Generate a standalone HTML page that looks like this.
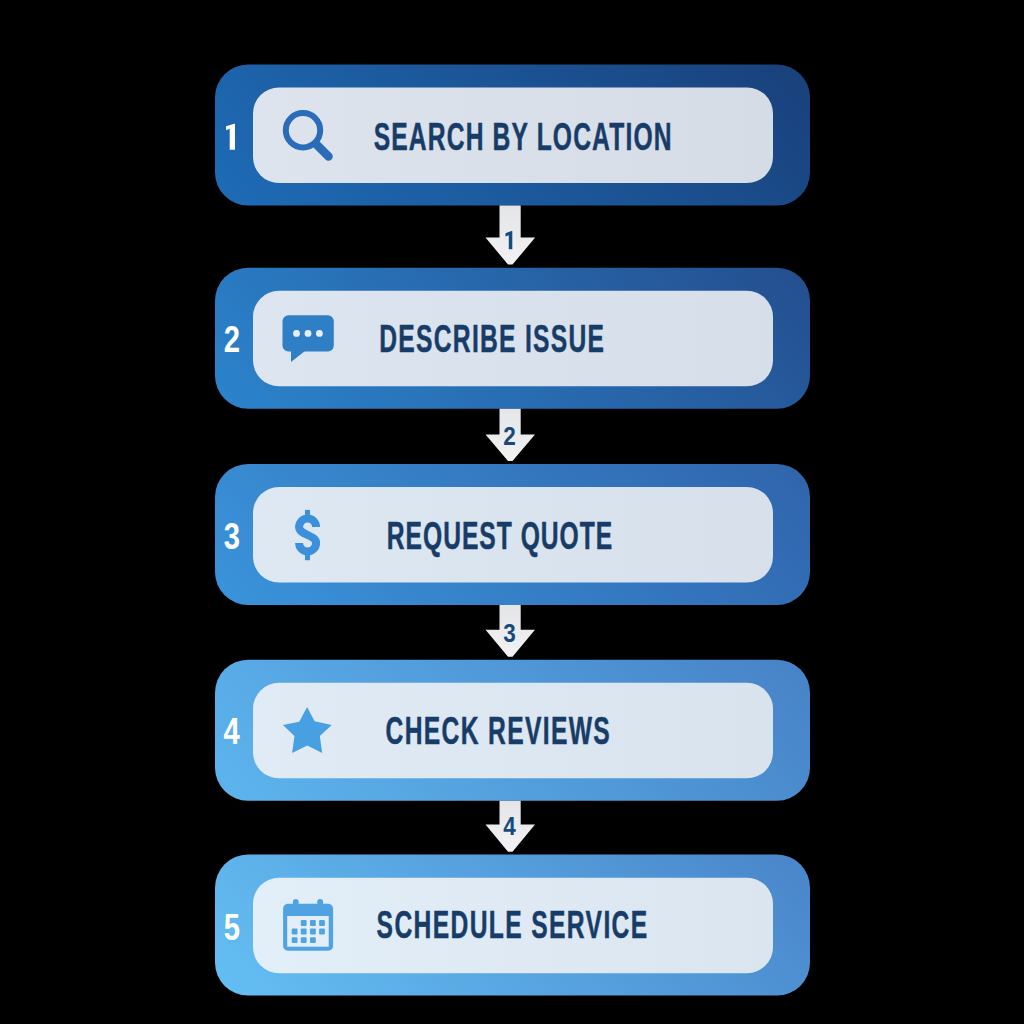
<!DOCTYPE html>
<html><head><meta charset="utf-8">
<style>
html,body{margin:0;padding:0;background:#000;width:1024px;height:1024px;overflow:hidden;}
svg{display:block;}
.t{font-family:"Liberation Sans",sans-serif;font-weight:bold;}
</style></head>
<body>
<svg width="1024" height="1024" viewBox="0 0 1024 1024">
<defs>
<linearGradient id="g1" gradientUnits="userSpaceOnUse" x1="215" y1="205.5" x2="583.0" y2="-162.5"><stop offset="0" stop-color="#1e6cb7"/><stop offset="1" stop-color="#19407a"/></linearGradient>
<linearGradient id="g2" gradientUnits="userSpaceOnUse" x1="215" y1="408.7" x2="583.0" y2="40.7"><stop offset="0" stop-color="#2b84cd"/><stop offset="1" stop-color="#244e8e"/></linearGradient>
<linearGradient id="g3" gradientUnits="userSpaceOnUse" x1="215" y1="605.0" x2="583.0" y2="237.0"><stop offset="0" stop-color="#3a94db"/><stop offset="1" stop-color="#3064ac"/></linearGradient>
<linearGradient id="g4" gradientUnits="userSpaceOnUse" x1="215" y1="800.7" x2="583.0" y2="432.7"><stop offset="0" stop-color="#5db5ee"/><stop offset="1" stop-color="#4682c6"/></linearGradient>
<linearGradient id="g5" gradientUnits="userSpaceOnUse" x1="215" y1="995.6" x2="583.0" y2="627.6"><stop offset="0" stop-color="#64bff4"/><stop offset="1" stop-color="#4985c9"/></linearGradient>
<linearGradient id="ga" x1="0" y1="0" x2="0" y2="1">
<stop offset="0" stop-color="#e4e5e8"/><stop offset="1" stop-color="#f2f2f4"/></linearGradient>
<linearGradient id="i1" x1="0" y1="0" x2="1" y2="0"><stop offset="0" stop-color="#dde4ed"/><stop offset="1" stop-color="#d5dce6"/></linearGradient>
<linearGradient id="i2" x1="0" y1="0" x2="1" y2="0"><stop offset="0" stop-color="#dde6f0"/><stop offset="1" stop-color="#d6dee9"/></linearGradient>
<linearGradient id="i3" x1="0" y1="0" x2="1" y2="0"><stop offset="0" stop-color="#dde8f3"/><stop offset="1" stop-color="#d7e0eb"/></linearGradient>
<linearGradient id="i4" x1="0" y1="0" x2="1" y2="0"><stop offset="0" stop-color="#e0ebf6"/><stop offset="1" stop-color="#d9e3ee"/></linearGradient>
<linearGradient id="i5" x1="0" y1="0" x2="1" y2="0"><stop offset="0" stop-color="#e2eef8"/><stop offset="1" stop-color="#dbe5f0"/></linearGradient>
</defs>

<!-- outer boxes -->
<rect x="215" y="64.5" width="595" height="141" rx="33" fill="url(#g1)"/>
<rect x="215" y="267.7" width="595" height="141" rx="33" fill="url(#g2)"/>
<rect x="215" y="464" width="595" height="141" rx="33" fill="url(#g3)"/>
<rect x="215" y="659.7" width="595" height="141" rx="33" fill="url(#g4)"/>
<rect x="215" y="854.6" width="595" height="141" rx="33" fill="url(#g5)"/>

<!-- inner boxes -->
<rect x="253" y="87.5" width="520" height="95.5" rx="26" fill="url(#i1)"/>
<rect x="253" y="290.8" width="520" height="95.5" rx="26" fill="url(#i2)"/>
<rect x="253" y="487" width="520" height="95.5" rx="26" fill="url(#i3)"/>
<rect x="253" y="682.8" width="520" height="95.5" rx="26" fill="url(#i4)"/>
<rect x="253" y="877.7" width="520" height="95.5" rx="26" fill="url(#i5)"/>

<!-- arrows -->
<g fill="url(#ga)">
<path d="M499.5 205.5 H520.7 V237.6 H535.2 L512.5 264.5 H508 L485.5 237.6 H499.5 Z"/>
<path d="M499.5 408.7 H520.7 V434.4 H535 L512.5 461 H508 L485.5 434.4 H499.5 Z"/>
<path d="M499.5 605 H520.7 V629.8 H535 L512.5 656.7 H508 L485.5 629.8 H499.5 Z"/>
<path d="M499.5 800.7 H520.7 V824.4 H535 L512.5 851.7 H508 L485.5 824.4 H499.5 Z"/>
</g>
<path d="M508.8 249.3 V235.3 L505.5 236.5 V233.2 L511.6 230.9 H512.3 V249.3 Z" fill="#174a7c"/>
<g class="t" fill="#174a7c" font-size="25" text-anchor="middle">
<text transform="translate(509.5 445.3) scale(0.9 1)">2</text>
<text transform="translate(509.6 641.5) scale(0.9 1)">3</text>
<text transform="translate(509.6 835.2) scale(0.9 1)">4</text>
</g>

<!-- left numbers -->
<path d="M229.7 149.8 V128.8 L226 130.2 V126.2 L234.2 123.7 H235 V149.8 Z" fill="#fff"/>
<g class="t" fill="#ffffff" font-size="36.5" text-anchor="middle">
<text transform="translate(231.9 352) scale(0.8 1)">2</text>
<text transform="translate(231.9 549.4) scale(0.8 1)">3</text>
<text transform="translate(231.7 743.9) scale(0.8 1)">4</text>
<text transform="translate(231.9 939.6) scale(0.8 1)">5</text>
</g>

<!-- labels -->
<g class="t" fill="#183c68" stroke="#183c68" stroke-width="0.4" font-size="38.5">
<text transform="translate(373.7 150.0) scale(0.64 1)" x="0" y="0" textLength="465.3" lengthAdjust="spacing" vector-effect="non-scaling-stroke">SEARCH BY LOCATION</text>
<text transform="translate(379.3 352.0) scale(0.64 1)" x="0" y="0" textLength="351.1" lengthAdjust="spacing" vector-effect="non-scaling-stroke">DESCRIBE ISSUE</text>
<text transform="translate(386.8 549.3) scale(0.64 1)" x="0" y="0" textLength="352.2" lengthAdjust="spacing" vector-effect="non-scaling-stroke">REQUEST QUOTE</text>
<text transform="translate(385.5 743.8) scale(0.64 1)" x="0" y="0" textLength="350.3" lengthAdjust="spacing" vector-effect="non-scaling-stroke">CHECK REVIEWS</text>
<text transform="translate(376.6 938.1) scale(0.64 1)" x="0" y="0" textLength="422.8" lengthAdjust="spacing" vector-effect="non-scaling-stroke">SCHEDULE SERVICE</text>
</g>

<!-- icon 1: search -->
<g stroke="#2a6cb8" fill="none">
<circle cx="303" cy="130.2" r="17.2" stroke-width="6"/>
<line x1="316" y1="144" x2="328.5" y2="156.5" stroke-width="8.5" stroke-linecap="round"/>
</g>

<!-- icon 2: chat bubble -->
<g>
<rect x="282.5" y="315.3" width="51.3" height="36.2" rx="6" fill="#2f7fc6"/>
<path d="M291 349 V362 L307.6 349 Z" fill="#2f7fc6"/>
<circle cx="296.5" cy="333.4" r="3.4" fill="#e8eef6"/>
<circle cx="308" cy="333.4" r="3.4" fill="#e8eef6"/>
<circle cx="319.4" cy="333.4" r="3.4" fill="#e8eef6"/>
</g>

<!-- icon 3: dollar -->
<g fill="#3b8fdb">
<path d="M316.1 527 A8.5 8.5 0 0 0 299.1 527 C299.1 535 316.1 535 316.1 543 A8.5 8.5 0 0 1 299.1 543" fill="none" stroke="#3b8fdb" stroke-width="8"/>
<rect x="305" y="509.9" width="5" height="7"/>
<rect x="305" y="553" width="5" height="7.2"/>
</g>

<!-- icon 4: star -->
<path d="M307.1 707 L314.6 721.3 L331.7 724.9 L319.8 736 L322.2 753.1 L307.3 745.6 L292.1 753.1 L294.5 736 L282.9 724.9 L299.3 721.7 Z" fill="#46a0e2"/>

<!-- icon 5: calendar -->
<g fill="#4fa3e3">
<rect x="283.1" y="903.7" width="50" height="47.1" rx="5"/>
<rect x="292.9" y="898.9" width="5.7" height="10" rx="2.8"/>
<rect x="317.2" y="898.9" width="5.9" height="10" rx="2.9"/>
</g>
<rect x="287.2" y="916" width="41.5" height="30.7" fill="#e4eef9"/>
<g fill="#4fa3e3">
<rect x="300.8" y="920.1" width="5.8" height="5.8" rx="1"/>
<rect x="310" y="920.1" width="5.8" height="5.8" rx="1"/>
<rect x="319.1" y="920.1" width="5.8" height="5.8" rx="1"/>
<rect x="291.7" y="928.6" width="5.8" height="5.8" rx="1"/>
<rect x="300.8" y="928.6" width="5.8" height="5.8" rx="1"/>
<rect x="310" y="928.6" width="5.8" height="5.8" rx="1"/>
<rect x="319.1" y="928.6" width="5.8" height="5.8" rx="1"/>
<rect x="291.7" y="937.2" width="5.8" height="5.8" rx="1"/>
<rect x="300.8" y="937.2" width="5.8" height="5.8" rx="1"/>
<rect x="310" y="937.2" width="5.8" height="5.8" rx="1"/>
</g>
</svg>
</body></html>
